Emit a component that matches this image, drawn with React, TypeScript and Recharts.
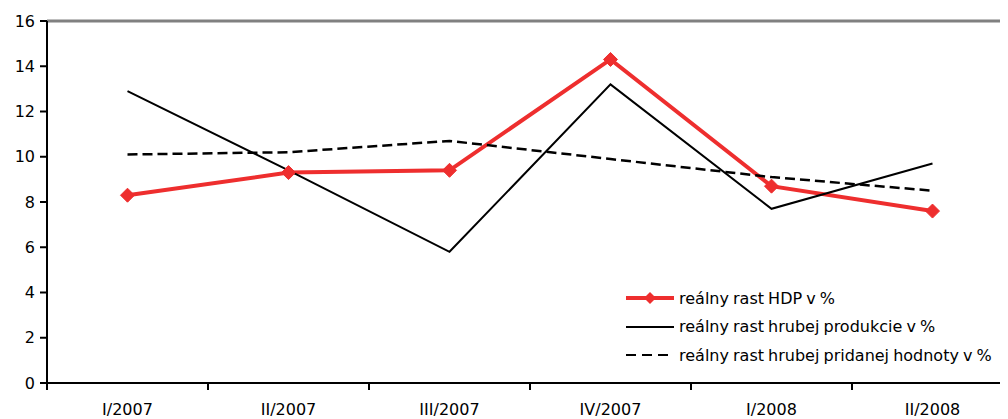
import React from "react"
import { Legend, Line, LineChart, ReferenceLine, XAxis, YAxis } from "recharts"

const categories = ["I/2007", "II/2007", "III/2007", "IV/2007", "I/2008", "II/2008"]
const hdp = [8.3, 9.3, 9.4, 14.3, 8.7, 7.6]
const produkcia = [12.9, 9.4, 5.8, 13.2, 7.7, 9.7]
const pridanaHodnota = [10.1, 10.2, 10.7, 9.9, 9.1, 8.5]
const yTicks = [0, 2, 4, 6, 8, 10, 12, 14, 16]

const seriesNames = {
    hdp: "reálny rast HDP v %",
    produkcia: "reálny rast hrubej produkcie v %",
    pridana: "reálny rast hrubej pridanej hodnoty v %",
}

// categories sit between the boundary ticks, so x runs 0..6 with points at the half steps
const data = categories.map((cat, i) => ({
    x: i + 0.5,
    cat,
    hdp: hdp[i],
    produkcia: produkcia[i],
    pridana: pridanaHodnota[i],
}))

const xTicks: number[] = []
for (let i = 0; i <= categories.length * 2; i++) xTicks.push(i / 2)

const RED = "#ee2e2e"
const FONT = "'DejaVu Sans', sans-serif"

const Diamond = (props: any) => {
    const { cx, cy } = props
    if (cx == null || cy == null) return null
    const r = 7
    return (
        <polygon
            points={`${cx},${cy - r} ${cx + r},${cy} ${cx},${cy + r} ${cx - r},${cy}`}
            fill={RED}
            stroke={RED}
        />
    )
}

const XTick = (props: any) => {
    const { x, y, payload } = props
    const v = payload.value as number
    if (Number.isInteger(v)) {
        return <line x1={x} x2={x} y1={y} y2={y + 7} stroke="#000" strokeWidth={2} />
    }
    const label = categories[Math.floor(v)]
    return (
        <text x={x} y={y + 32} textAnchor="middle" fontSize={16} fontFamily={FONT} fill="#000">
            {label}
        </text>
    )
}

const LegendContent = () => {
    const rows = [
        { name: seriesNames.hdp, color: RED, width: 4, dash: undefined, diamond: true },
        { name: seriesNames.produkcia, color: "#000", width: 2, dash: undefined, diamond: false },
        { name: seriesNames.pridana, color: "#000", width: 2, dash: "10 6", diamond: false },
    ]
    return (
        <div style={{ fontFamily: FONT, fontSize: 16, wordSpacing: -1 }}>
            {rows.map((r) => (
                <div key={r.name} style={{ display: "flex", alignItems: "center", height: 28.5 }}>
                    <svg width={53} height={20} style={{ flexShrink: 0 }}>
                        <line x1={0} x2={48} y1={10} y2={10} stroke={r.color} strokeWidth={r.width} strokeDasharray={r.dash} />
                        {r.diamond && <polygon points="24,4 30,10 24,16 18,10" fill={RED} />}
                    </svg>
                    <span style={{ whiteSpace: "nowrap" }}>{r.name}</span>
                </div>
            ))}
        </div>
    )
}

export default function App() {
    return (
        <div style={{ width: 1010, height: 411 }}>
            <LineChart
                width={1010}
                height={411}
                data={data}
                margin={{ top: 13, right: 5, bottom: 0, left: 0 }}
            >
                <XAxis
                    dataKey="x"
                    type="number"
                    domain={[0, categories.length]}
                    ticks={xTicks}
                    interval={0}
                    height={36}
                    tickSize={0}
                    tickMargin={0}
                    tickLine={false}
                    tick={<XTick />}
                    axisLine={{ stroke: "#000", strokeWidth: 2 }}
                />
                <YAxis
                    domain={[0, 16]}
                    ticks={yTicks}
                    interval={0}
                    width={39}
                    tickSize={7}
                    tickMargin={5}
                    tick={{ fill: "#000", fontSize: 16, fontFamily: FONT }}
                    tickLine={{ stroke: "#000", strokeWidth: 2 }}
                    axisLine={{ stroke: "#000", strokeWidth: 2 }}
                />
                <ReferenceLine y={16} stroke="#808080" strokeWidth={3} />
                <Legend
                    layout="horizontal"
                    verticalAlign="middle"
                    align="center"
                    content={<LegendContent />}
                    wrapperStyle={{ left: 618, top: 276, width: 400, height: 90 }}
                />
                <Line
                    dataKey="hdp"
                    name={seriesNames.hdp}
                    type="linear"
                    stroke={RED}
                    strokeWidth={4}
                    dot={<Diamond />}
                    activeDot={false}
                    isAnimationActive={false}
                />
                <Line
                    dataKey="produkcia"
                    name={seriesNames.produkcia}
                    type="linear"
                    stroke="#000"
                    strokeWidth={2}
                    dot={false}
                    activeDot={false}
                    isAnimationActive={false}
                />
                <Line
                    dataKey="pridana"
                    name={seriesNames.pridana}
                    type="linear"
                    stroke="#000"
                    strokeWidth={2.5}
                    strokeDasharray="10 5"
                    dot={false}
                    activeDot={false}
                    isAnimationActive={false}
                />
            </LineChart>
        </div>
    )
}
